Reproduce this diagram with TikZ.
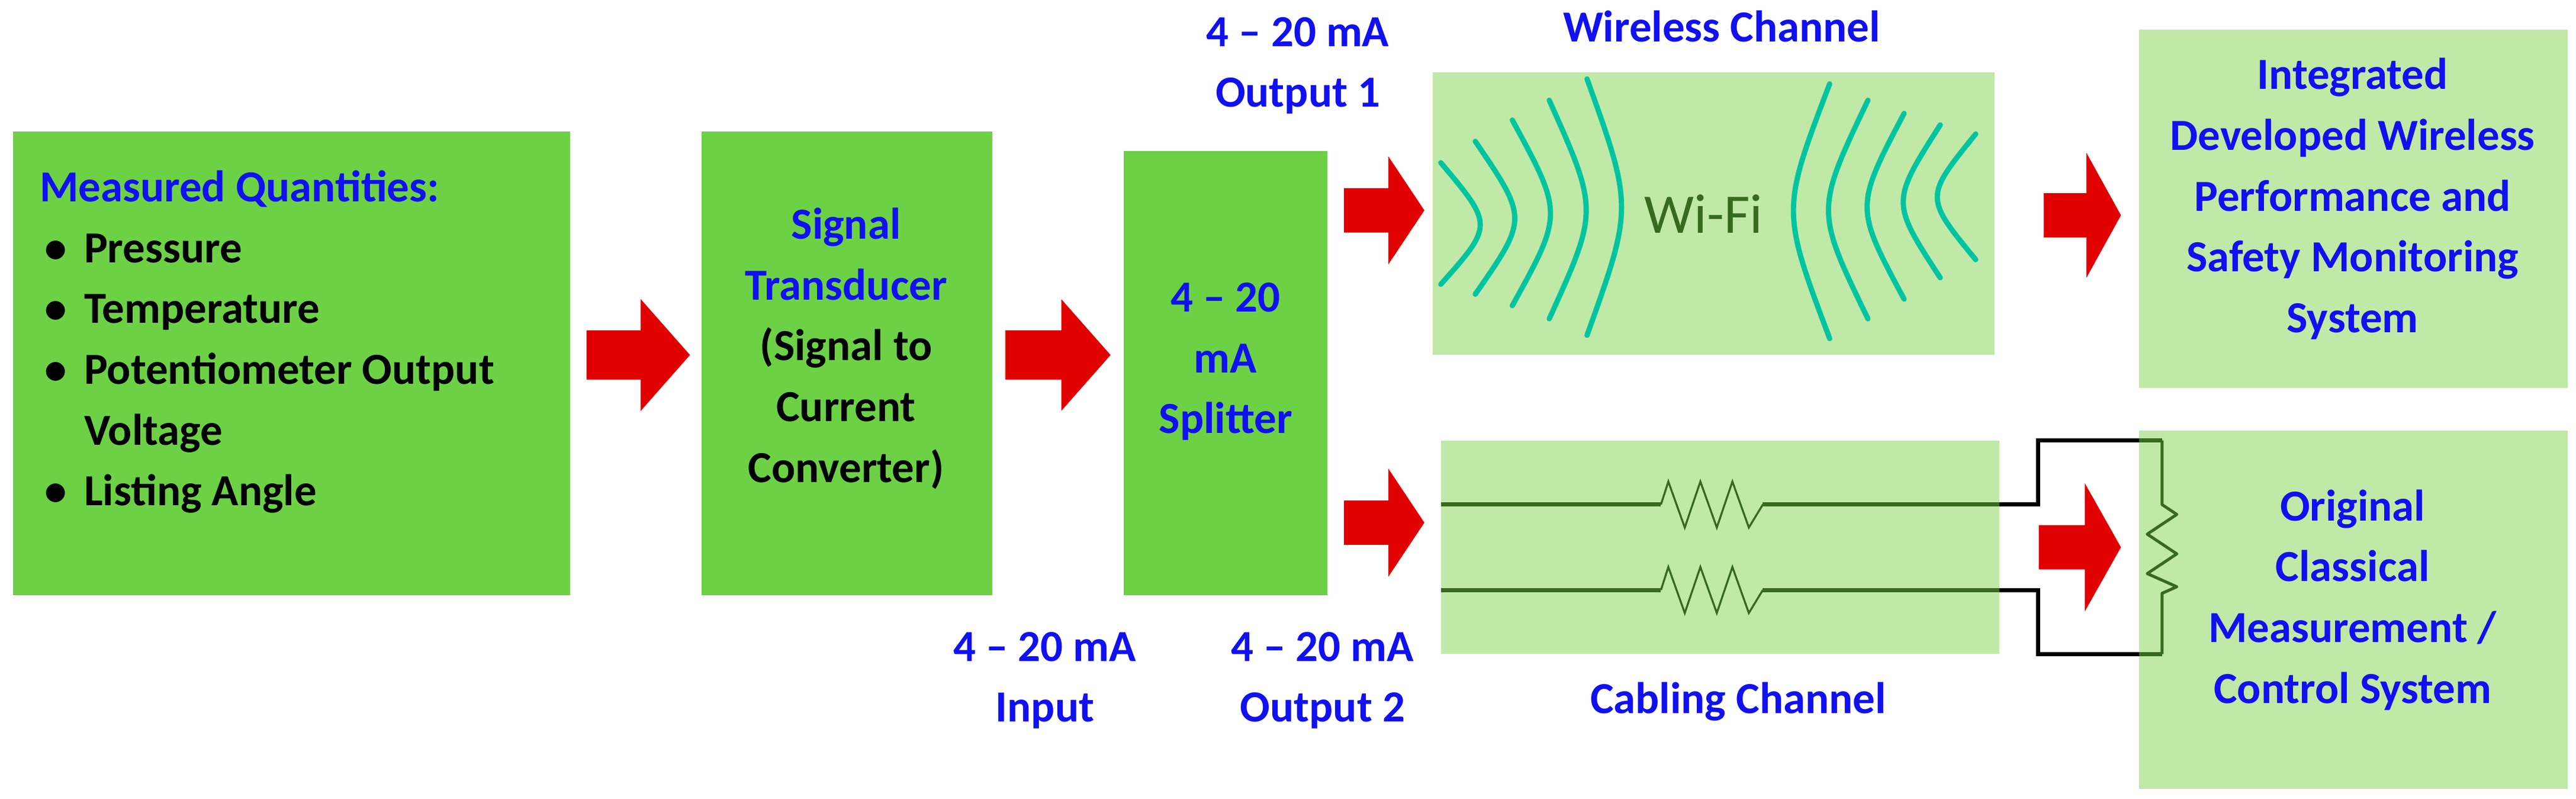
\documentclass[tikz,border=0pt]{standalone}
\usepackage{fontspec}
\setmainfont{Carlito}
\definecolor{boxgreen}{HTML}{6DD145}
\definecolor{lightgreen}{HTML}{C0E9A7}
\definecolor{tblue}{HTML}{1010F0}
\definecolor{arrowred}{HTML}{E00000}
\definecolor{teal}{HTML}{00C4A0}
\definecolor{dgreen}{HTML}{376A1F}
\newcommand{\rarr}[6]{\fill[arrowred] ({#1},{#2-#4/2}) -- ({#1+#3-#5},{#2-#4/2}) -- ({#1+#3-#5},{#2-#6/2}) -- ({#1+#3},{#2}) -- ({#1+#3-#5},{#2+#6/2}) -- ({#1+#3-#5},{#2+#4/2}) -- ({#1},{#2+#4/2}) -- cycle;}
\begin{document}
\begin{tikzpicture}[x=1pt,y=-1pt,
  txt/.style={font=\fontsize{27}{37}\selectfont\bfseries, align=center, inner sep=0pt},
  lbl/.style={txt, text=tblue},
  arc/.style={teal, line width=3.2pt, line cap=round},
  wire/.style={dgreen, line width=2.6pt},
  res/.style={dgreen, line width=1.2pt}]
\useasboundingbox (0,0) rectangle (1568,486);
% boxes
\fill[boxgreen] (8,80) rectangle (347,362);
\fill[boxgreen] (427,80) rectangle (604,362);
\fill[boxgreen] (684,92) rectangle (808,362);
\fill[lightgreen] (872,44) rectangle (1214,216);
\fill[lightgreen] (877,268) rectangle (1217,398);
\fill[lightgreen] (1302,18) rectangle (1563,236);
\fill[lightgreen] (1302,262) rectangle (1563,480);
% box texts
\node[txt, anchor=west, align=left] (b1) at (24,208) {\textcolor{tblue}{Measured Quantities:}\\
\makebox[27pt][l]{\hspace{3pt}\textbullet}Pressure\\
\makebox[27pt][l]{\hspace{3pt}\textbullet}Temperature\\
\makebox[27pt][l]{\hspace{3pt}\textbullet}Potentiometer Output\\
\hspace*{27pt}Voltage\\
\makebox[27pt][l]{\hspace{3pt}\textbullet}Listing Angle};
\node[txt] (b2) at (515,212) {\textcolor{tblue}{Signal}\\\textcolor{tblue}{Transducer}\\(Signal to\\Current\\Converter)};
\node[lbl] (b3) at (746,220) {4 – 20\\mA\\Splitter};
\node[lbl] (b4) at (1432,121) {Integrated\\Developed Wireless\\Performance and\\Safety Monitoring\\System};
\node[lbl] (b5) at (1432,365) {Original\\Classical\\Measurement /\\Control System};
% labels
\node[lbl] (l1) at (790,40) {4 – 20 mA\\Output 1};
\node[lbl] (l2) at (636,414) {4 – 20 mA\\Input};
\node[lbl] (l3) at (805,414) {4 – 20 mA\\Output 2};
\node[lbl] (l4) at (1048,16) {Wireless Channel};
\node[lbl] (l5) at (1058,427) {Cabling Channel};
\node[font=\fontsize{34}{40}\selectfont, text=dgreen, inner sep=0pt] (wifi) at (1037,130) {Wi-Fi};
% wifi arcs
\draw[arc] (877,99) .. controls (909,137) .. (877,173);
\draw[arc] (898,86) .. controls (930,133) .. (898,179);
\draw[arc] (920.5,73) .. controls (951.5,130) .. (920.5,186);
\draw[arc] (943,61) .. controls (973,128) .. (943,194);
\draw[arc] (966,48) .. controls (994,126) .. (966,204);
\draw[arc] (1113.7,51) .. controls (1084.3,128) .. (1113.7,206);
\draw[arc] (1137,61) .. controls (1105,128) .. (1137,194);
\draw[arc] (1159,69) .. controls (1129,126) .. (1159,182);
\draw[arc] (1181,76) .. controls (1151,123) .. (1181,169);
\draw[arc] (1202.6,81.5) .. controls (1171.4,120) .. (1202.6,158);
% arrows
\rarr{357}{216}{63}{30}{30}{68}
\rarr{612}{216}{64}{30}{30}{68}
\rarr{818}{128}{49}{27}{22}{66}
\rarr{818}{318}{49}{27}{22}{66}
\rarr{1244}{131}{47}{27}{21}{76}
\rarr{1241}{333}{50}{27}{22}{78}
% cabling
\draw[black, line width=2.6pt] (1216,307) -- (1240.6,307) -- (1240.6,268) -- (1316,268);
\draw[black, line width=2.6pt] (1216,359) -- (1240.6,359) -- (1240.6,398) -- (1316,398);
\foreach \y in {307,359}{
  \draw[wire] (877,\y) -- (1011,\y);
  \draw[wire] (1073,\y) -- (1217,\y);
  \draw[res, line join=miter] (1011,\y) -- (1015.5,{\y-14}) -- (1025.5,{\y+14}) -- (1035,{\y-14}) -- (1045,{\y+14}) -- (1054.5,{\y-14}) -- (1064.5,{\y+14}) -- (1073,\y);
}
\draw[dgreen, line width=2.6pt] (1302,268) -- (1316,268);
\draw[dgreen, line width=2.6pt] (1302,398) -- (1316,398);
\draw[dgreen, line width=1.8pt, line join=round] (1316,268) -- (1316,307)
  -- (1325,313) -- (1307,325) -- (1325,337) -- (1307,349) -- (1325,357) -- (1316,361)
  -- (1316,398);
\end{tikzpicture}
\end{document}
